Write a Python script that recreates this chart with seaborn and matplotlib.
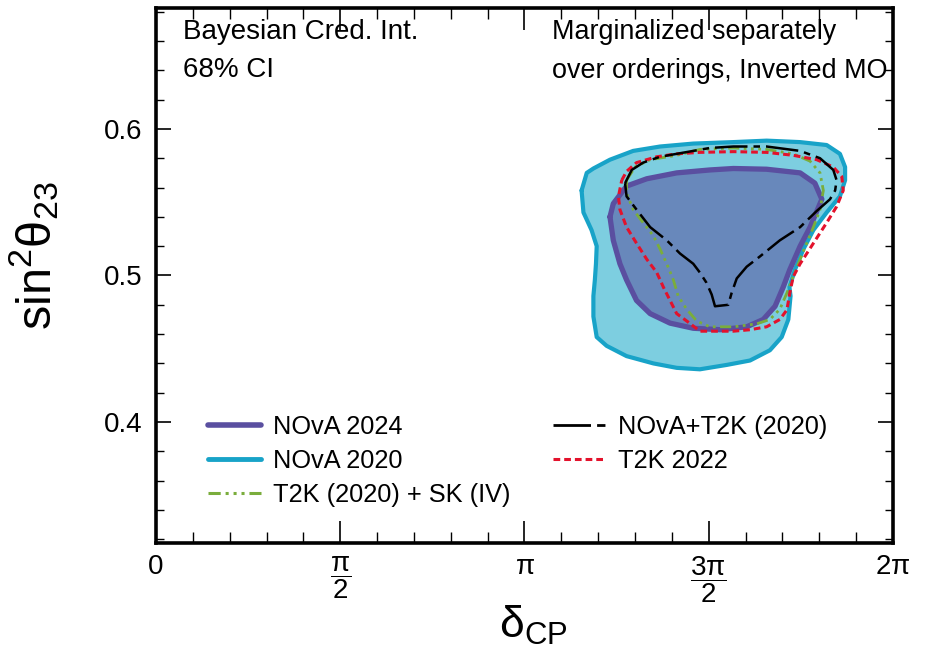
import numpy as np
import matplotlib
matplotlib.use("Agg")
import matplotlib.pyplot as plt
import seaborn as sns
from matplotlib.lines import Line2D
from matplotlib.ticker import MultipleLocator, FixedLocator

# ---- data: delta_CP in units of pi, sin^2(theta_23) ----
nova2020_dcp = [1.155, 1.169, 1.187, 1.232, 1.295, 1.368, 1.458, 1.566, 1.657, 1.748,
                1.820, 1.856, 1.870, 1.870, 1.856, 1.820, 1.784, 1.757, 1.734, 1.719,
                1.722, 1.716, 1.698, 1.666, 1.612, 1.549, 1.476, 1.413, 1.350, 1.277,
                1.223, 1.196, 1.187, 1.187, 1.191, 1.194, 1.196, 1.182, 1.160]
nova2020_s23 = [0.558, 0.570, 0.573, 0.579, 0.585, 0.588, 0.590, 0.591, 0.592, 0.591,
                0.589, 0.583, 0.574, 0.565, 0.554, 0.543, 0.531, 0.518, 0.504, 0.492,
                0.486, 0.470, 0.458, 0.449, 0.442, 0.439, 0.436, 0.437, 0.440, 0.445,
                0.452, 0.458, 0.472, 0.486, 0.497, 0.508, 0.520, 0.531, 0.543]

nova2024_dcp = [1.232, 1.241, 1.277, 1.332, 1.413, 1.503, 1.567, 1.657, 1.748, 1.788,
                1.807, 1.775, 1.748, 1.720, 1.702, 1.680, 1.648, 1.603, 1.531, 1.458,
                1.395, 1.341, 1.304, 1.277, 1.259, 1.241]
nova2024_s23 = [0.540, 0.549, 0.561, 0.566, 0.570, 0.572, 0.573, 0.5725, 0.570, 0.563,
                0.552, 0.533, 0.520, 0.504, 0.492, 0.479, 0.470, 0.465, 0.463, 0.464,
                0.4675, 0.474, 0.483, 0.497, 0.508, 0.524]

novat2k_dcp = [1.273, 1.291, 1.322, 1.368, 1.413, 1.503, 1.567, 1.657, 1.748, 1.802,
               1.838, 1.847, 1.843, 1.829, 1.793, 1.748, 1.693, 1.639, 1.603, 1.576,
               1.562, 1.553, 1.517, 1.508, 1.494, 1.476, 1.458, 1.422, 1.386, 1.341,
               1.304, 1.277]
novat2k_s23 = [0.563, 0.572, 0.577, 0.581, 0.583, 0.587, 0.588, 0.588, 0.585, 0.580,
               0.572, 0.565, 0.558, 0.552, 0.544, 0.533, 0.524, 0.513, 0.506, 0.498,
               0.488, 0.480, 0.479, 0.487, 0.495, 0.502, 0.508, 0.515, 0.524, 0.533,
               0.545, 0.554]

t2ksk_dcp = [1.277, 1.300, 1.341, 1.413, 1.476, 1.567, 1.657, 1.729, 1.775, 1.802,
             1.811, 1.802, 1.784, 1.766, 1.748, 1.729, 1.712, 1.693, 1.666, 1.630,
             1.567, 1.503, 1.467, 1.440, 1.417, 1.404, 1.386, 1.368, 1.350, 1.322,
             1.295, 1.277]
t2ksk_s23 = [0.565, 0.574, 0.579, 0.582, 0.586, 0.587, 0.586, 0.583, 0.578, 0.570,
             0.558, 0.545, 0.533, 0.522, 0.511, 0.499, 0.488, 0.477, 0.470, 0.467,
             0.465, 0.465, 0.469, 0.477, 0.486, 0.497, 0.508, 0.518, 0.527, 0.536,
             0.545, 0.556]

t2k2022_dcp = [1.264, 1.277, 1.304, 1.359, 1.413, 1.476, 1.567, 1.657, 1.729, 1.793,
               1.838, 1.861, 1.865, 1.847, 1.820, 1.784, 1.748, 1.729, 1.720, 1.712,
               1.693, 1.657, 1.612, 1.567, 1.476, 1.440, 1.413, 1.395, 1.377, 1.359,
               1.332, 1.304, 1.277, 1.259, 1.255]
t2k2022_s23 = [0.565, 0.571, 0.577, 0.581, 0.583, 0.584, 0.5845, 0.584, 0.582, 0.579,
               0.574, 0.5675, 0.558, 0.547, 0.536, 0.522, 0.508, 0.499, 0.488, 0.4765,
               0.470, 0.465, 0.463, 0.462, 0.462, 0.469, 0.474, 0.483, 0.492, 0.502,
               0.511, 0.522, 0.533, 0.545, 0.554]

labels = ["NOvA 2024", "NOvA 2020", "T2K (2020) + SK (IV)", "NOvA+T2K (2020)", "T2K 2022"]
x_ticks = [0, 0.5, 1, 1.5, 2]
x_ticklabels = ["0", r"$\dfrac{\mathrm{\pi}}{2}$", r"$\mathrm{\pi}$",
                r"$\dfrac{3\mathrm{\pi}}{2}$", r"$2\mathrm{\pi}$"]
y_ticks = [0.4, 0.5, 0.6]
y_ticklabels = ["0.4", "0.5", "0.6"]

# ---- style ----
sns.set_style("ticks")
plt.rcParams['font.family'] = ['Liberation Sans', 'DejaVu Sans']
plt.rcParams['mathtext.fontset'] = 'custom'
plt.rcParams['mathtext.rm'] = 'Liberation Sans'
plt.rcParams['mathtext.it'] = 'Liberation Sans:italic'
plt.rcParams['mathtext.bf'] = 'Liberation Sans:bold'
for k in ['text.color', 'axes.labelcolor', 'xtick.color', 'ytick.color',
          'xtick.labelcolor', 'ytick.labelcolor']:
    plt.rcParams[k] = 'black'

CYAN_FILL = "#7dcee0"
CYAN_EDGE = "#18a3c8"
PURPLE_FILL = "#6888bb"
PURPLE_EDGE = "#5a4fa0"
GREEN = "#7aad3c"
RED = "#e3122c"

ls_black = (0, (13, 2.4, 2.6, 2.4))
ls_red = (0, (2.2, 1.3))
ls_green = (0, (4.0, 1.6, 1.0, 1.6, 1.0, 1.6, 1.0, 1.6))

fig = plt.figure(figsize=(9.25, 6.55), dpi=100)
ax = fig.add_axes([0.1686, 0.1710, 0.7968, 0.8168])


def closed(a):
    return list(a) + [a[0]]


ax.fill(nova2020_dcp, nova2020_s23, color=CYAN_FILL, lw=0, zorder=1)
sns.lineplot(x=closed(nova2020_dcp), y=closed(nova2020_s23), sort=False, estimator=None,
             color=CYAN_EDGE, linewidth=3.0, ax=ax, zorder=2)
ax.fill(nova2024_dcp, nova2024_s23, color=PURPLE_FILL, lw=0, zorder=3)
sns.lineplot(x=closed(nova2024_dcp), y=closed(nova2024_s23), sort=False, estimator=None,
             color=PURPLE_EDGE, linewidth=3.8, ax=ax, zorder=4)
sns.lineplot(x=closed(t2ksk_dcp), y=closed(t2ksk_s23), sort=False, estimator=None,
             color=GREEN, linewidth=2.0, linestyle=ls_green, ax=ax, zorder=5)
sns.lineplot(x=closed(t2k2022_dcp), y=closed(t2k2022_s23), sort=False, estimator=None,
             color=RED, linewidth=2.2, linestyle=ls_red, ax=ax, zorder=6)
sns.lineplot(x=closed(novat2k_dcp), y=closed(novat2k_s23), sort=False, estimator=None,
             color="black", linewidth=1.8, linestyle=ls_black, ax=ax, zorder=7)

ax.set_xlim(0, 2)
ax.set_ylim(0.3175, 0.6825)
ax.xaxis.set_major_locator(FixedLocator(x_ticks))
ax.set_xticklabels(x_ticklabels)
ax.xaxis.set_minor_locator(MultipleLocator(0.1))
ax.yaxis.set_major_locator(FixedLocator(y_ticks))
ax.set_yticklabels(y_ticklabels)
ax.yaxis.set_minor_locator(MultipleLocator(0.02))

ax.tick_params(axis='both', which='both', direction='in', top=True, right=True,
               color='black', labelsize=20)
ax.tick_params(axis='x', which='major', length=16, width=1.2, pad=8)
ax.tick_params(axis='x', which='minor', length=8, width=1.0)
ax.tick_params(axis='y', which='major', length=11, width=1.2, pad=10)
ax.tick_params(axis='y', which='minor', length=5.5, width=1.0)
for s in ax.spines.values():
    s.set_linewidth(2.6)
    s.set_color('black')
    s.set_visible(True)

ax.set_xlabel(r"$\mathregular{δ_{CP}}$", fontsize=32)
ax.xaxis.set_label_coords(0.512, -0.113)
ax.set_ylabel(r"$\mathregular{sin^{2}θ_{23}}$", fontsize=35)
ax.yaxis.set_label_coords(-0.128, 0.538)

ax.text(0.037, 0.979, "Bayesian Cred. Int.\n68% CI", transform=ax.transAxes,
        fontsize=20, va='top', ha='left', linespacing=1.6)
ax.text(0.537, 0.979, "Marginalized separately\nover orderings, Inverted MO",
        transform=ax.transAxes, fontsize=19.4, va='top', ha='left', linespacing=1.65)

h_left = [Line2D([], [], color=PURPLE_EDGE, lw=4.0),
          Line2D([], [], color=CYAN_EDGE, lw=3.5),
          Line2D([], [], color=GREEN, lw=2.2, ls=ls_green)]
h_right = [Line2D([], [], color="black", lw=2.0, ls=(0, (13.5, 2.2, 3.0, 2.2))),
           Line2D([], [], color=RED, lw=2.2, ls=ls_red)]
leg_kw = dict(loc='upper left', frameon=False, fontsize=18.3, handlelength=2.1,
              handletextpad=0.45, labelspacing=0.40, borderpad=0, borderaxespad=0)
leg1 = ax.legend(h_left, labels[:3], bbox_to_anchor=(0.0706, 0.240), **leg_kw)
ax.add_artist(leg1)
ax.legend(h_right, labels[3:], bbox_to_anchor=(0.5387, 0.240), **leg_kw)

fig.savefig("out.png", dpi=100)
